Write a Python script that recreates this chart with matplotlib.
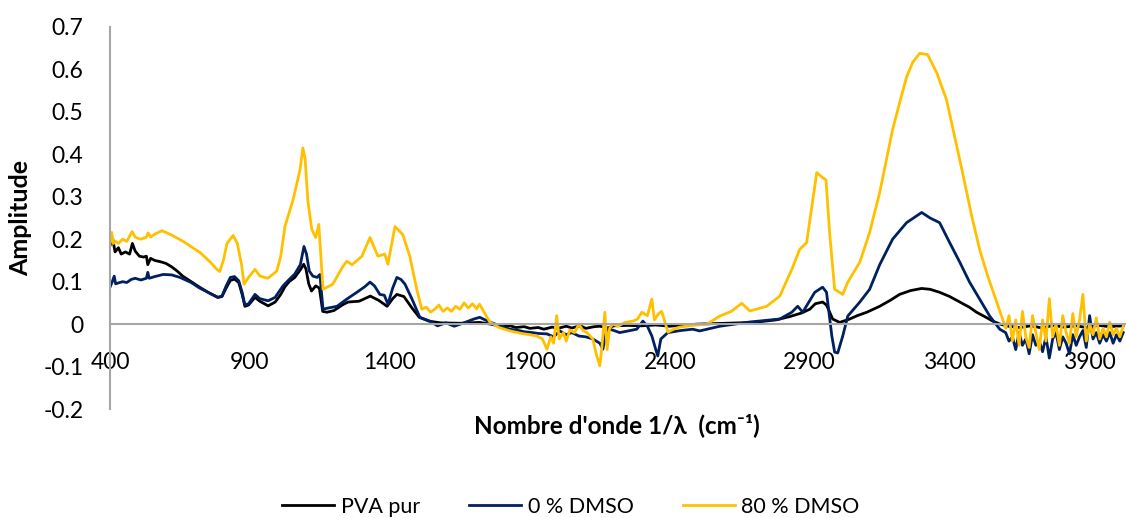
import matplotlib
matplotlib.use('Agg')
import matplotlib.pyplot as plt
from matplotlib.ticker import FuncFormatter

plt.rcParams['font.family'] = ['Lato', 'DejaVu Sans']
plt.rcParams['axes.unicode_minus'] = False

# PVA pur
pva_x = [400, 410, 418, 430, 440, 455, 470, 480, 490, 505, 520, 530, 535, 545, 560, 580, 600, 620,
         640, 660, 690, 720, 750, 785, 800, 815, 830, 845, 860, 872, 882, 895, 918, 935, 965, 990,
         1010, 1025, 1040, 1060, 1080, 1092, 1100, 1110, 1120, 1135, 1148, 1160, 1175, 1200, 1230,
         1250, 1290, 1330, 1360, 1390, 1410, 1425, 1450, 1480, 1505, 1540, 1580, 1650, 1720, 1760,
         1800, 1830, 1850, 1880, 1900, 1930, 1950, 1980, 2000, 2030, 2050, 2080, 2100, 2130, 2150,
         2180, 2200, 2250, 2300, 2350, 2400, 2450, 2500, 2600, 2700, 2780, 2830, 2870, 2900, 2920,
         2946, 2960, 2982, 3007, 3043, 3070, 3104, 3150, 3190, 3221, 3260, 3300, 3330, 3364, 3400,
         3436, 3470, 3496, 3530, 3554, 3580, 3610, 3650, 3690, 3730, 3770, 3810, 3850, 3890, 3930,
         3970, 4020]
pva_y = [0.185, 0.200, 0.170, 0.180, 0.165, 0.170, 0.165, 0.190, 0.172, 0.160, 0.158, 0.160, 0.140,
         0.155, 0.150, 0.147, 0.143, 0.135, 0.125, 0.113, 0.100, 0.087, 0.075, 0.063, 0.065, 0.085,
         0.103, 0.106, 0.098, 0.070, 0.042, 0.045, 0.063, 0.054, 0.043, 0.052, 0.070, 0.088, 0.100,
         0.110, 0.128, 0.141, 0.130, 0.095, 0.078, 0.090, 0.085, 0.030, 0.028, 0.032, 0.045, 0.052,
         0.054, 0.066, 0.056, 0.042, 0.060, 0.070, 0.065, 0.037, 0.016, 0.007, 0.003, 0.002, 0.004,
         0.000, -0.006, -0.004, -0.008, -0.006, -0.010, -0.008, -0.012, -0.007, -0.010, -0.005,
         -0.009, -0.004, -0.010, -0.006, -0.005, -0.009, -0.004, -0.003, -0.004, -0.002, -0.005,
         -0.002, 0.000, 0.002, 0.004, 0.010, 0.018, 0.026, 0.035, 0.048, 0.052, 0.045, 0.012, 0.004,
         0.012, 0.020, 0.028, 0.042, 0.057, 0.070, 0.079, 0.084, 0.082, 0.075, 0.065, 0.052, 0.040,
         0.028, 0.016, 0.007, 0.000, -0.005, -0.008, -0.004, -0.009, -0.003, -0.007, -0.004, -0.008,
         -0.003, -0.006, -0.004]

# 0 % DMSO
dmso0_x = [400, 408, 415, 420, 430, 445, 460, 475, 490, 510, 530, 535, 540, 560, 590, 620, 650, 690,
           720, 750, 785, 800, 815, 830, 845, 860, 872, 882, 895, 918, 935, 965, 990, 1018, 1040,
           1060, 1080, 1093, 1102, 1112, 1125, 1140, 1150, 1161, 1180, 1211, 1246, 1282, 1310, 1329,
           1345, 1364, 1380, 1393, 1410, 1425, 1440, 1454, 1479, 1507, 1543, 1570, 1600, 1630, 1660,
           1700, 1721, 1740, 1757, 1800, 1829, 1860, 1880, 1910, 1930, 1961, 1985, 2007, 2030, 2050,
           2075, 2100, 2125, 2150, 2161, 2175, 2200, 2221, 2260, 2282, 2304, 2320, 2336, 2350, 2357,
           2368, 2393, 2440, 2482, 2507, 2579, 2686, 2793, 2836, 2857, 2875, 2918, 2946, 2960, 2979,
           2989, 3000, 3018, 3036, 3079, 3114, 3150, 3196, 3246, 3300, 3330, 3364, 3400, 3436, 3471,
           3507, 3543, 3579, 3600, 3612, 3624, 3636, 3648, 3660, 3672, 3684, 3696, 3708, 3720, 3732,
           3744, 3756, 3768, 3780, 3792, 3804, 3816, 3828, 3840, 3852, 3864, 3876, 3888, 3900, 3912,
           3924, 3936, 3948, 3960, 3972, 3984, 3996, 4008, 4020]
dmso0_y = [0.087, 0.100, 0.113, 0.095, 0.097, 0.100, 0.098, 0.105, 0.108, 0.104, 0.108, 0.122, 0.108,
           0.112, 0.117, 0.116, 0.110, 0.098, 0.085, 0.075, 0.063, 0.066, 0.090, 0.110, 0.112, 0.102,
           0.075, 0.045, 0.048, 0.070, 0.060, 0.055, 0.063, 0.090, 0.105, 0.118, 0.140, 0.183, 0.165,
           0.125, 0.113, 0.110, 0.117, 0.035, 0.038, 0.042, 0.059, 0.075, 0.088, 0.099, 0.090, 0.070,
           0.068, 0.047, 0.085, 0.110, 0.105, 0.094, 0.059, 0.016, 0.007, -0.004, 0.003, -0.005, 0.002,
           0.012, 0.016, 0.010, 0.005, -0.006, -0.012, -0.015, -0.018, -0.020, -0.022, -0.023, -0.030,
           -0.016, -0.025, -0.020, -0.028, -0.030, -0.035, -0.045, -0.059, -0.010, -0.015, -0.020,
           -0.015, -0.012, 0.007, -0.005, -0.028, -0.060, -0.075, -0.035, -0.020, -0.015, -0.012,
           -0.016, -0.005, 0.005, 0.012, 0.028, 0.042, 0.028, 0.075, 0.087, 0.075, -0.028, -0.066,
           -0.068, -0.028, 0.019, 0.052, 0.082, 0.140, 0.200, 0.239, 0.263, 0.250, 0.239, 0.192, 0.146,
           0.099, 0.059, 0.019, -0.012, -0.020, -0.040, -0.030, -0.060, -0.020, -0.050, -0.035, -0.070,
           -0.025, -0.050, -0.040, -0.065, -0.030, -0.080, -0.035, -0.020, -0.060, -0.030, -0.045,
           -0.070, -0.025, -0.050, -0.030, -0.015, -0.055, 0.020, -0.035, -0.020, -0.045, -0.025,
           -0.040, -0.020, -0.045, -0.025, -0.040, -0.020]

# 80 % DMSO
dmso80_x = [400, 406, 412, 420, 430, 445, 460, 479, 490, 510, 530, 536, 545, 560, 586, 620, 661, 721,
            760, 782, 792, 805, 818, 840, 855, 870, 879, 895, 918, 936, 964, 996, 1010, 1025, 1054,
            1079, 1089, 1097, 1107, 1121, 1135, 1146, 1161, 1196, 1232, 1246, 1265, 1300, 1329, 1357,
            1382, 1393, 1418, 1446, 1471, 1496, 1514, 1530, 1545, 1560, 1575, 1590, 1605, 1620, 1635,
            1650, 1665, 1680, 1695, 1710, 1720, 1735, 1757, 1790, 1829, 1870, 1900, 1925, 1945, 1961,
            1975, 1985, 1996, 2005, 2020, 2030, 2043, 2060, 2075, 2090, 2104, 2125, 2139, 2150, 2158,
            2168, 2176, 2185, 2196, 2215, 2240, 2268, 2285, 2300, 2320, 2336, 2345, 2360, 2371, 2385,
            2393, 2420, 2436, 2480, 2532, 2579, 2620, 2657, 2686, 2746, 2793, 2836, 2864, 2889, 2911,
            2925, 2946, 2958, 2971, 2989, 3018, 3036, 3079, 3114, 3150, 3196, 3221, 3246, 3268, 3293,
            3321, 3354, 3389, 3418, 3446, 3479, 3507, 3536, 3568, 3589, 3600, 3612, 3624, 3636, 3648,
            3660, 3672, 3684, 3696, 3708, 3720, 3732, 3744, 3756, 3768, 3780, 3792, 3804, 3816, 3828,
            3840, 3852, 3864, 3876, 3888, 3900, 3912, 3924, 3936, 3948, 3960, 3972, 3984, 3996, 4008,
            4020]
dmso80_y = [0.188, 0.216, 0.190, 0.195, 0.190, 0.200, 0.195, 0.218, 0.205, 0.200, 0.205, 0.215, 0.205,
            0.212, 0.220, 0.210, 0.195, 0.169, 0.145, 0.129, 0.124, 0.150, 0.190, 0.209, 0.190, 0.140,
            0.094, 0.110, 0.129, 0.113, 0.108, 0.125, 0.160, 0.230, 0.293, 0.364, 0.415, 0.390, 0.290,
            0.223, 0.204, 0.235, 0.082, 0.094, 0.136, 0.148, 0.140, 0.160, 0.204, 0.160, 0.165, 0.141,
            0.230, 0.211, 0.160, 0.082, 0.035, 0.040, 0.028, 0.035, 0.045, 0.030, 0.038, 0.030, 0.042,
            0.035, 0.050, 0.038, 0.048, 0.036, 0.047, 0.030, 0.005, -0.008, -0.016, -0.022, -0.025,
            -0.028, -0.035, -0.059, -0.030, -0.045, 0.020, -0.035, -0.020, -0.040, -0.014, -0.020,
            0.000, -0.015, -0.020, -0.035, -0.075, -0.098, -0.050, 0.028, -0.060, -0.010, 0.000,
            -0.005, 0.004, 0.007, 0.012, 0.028, 0.020, 0.059, 0.010, 0.025, 0.030, 0.000, -0.019,
            -0.010, -0.007, -0.003, 0.000, 0.019, 0.030, 0.049, 0.031, 0.042, 0.066, 0.129, 0.176,
            0.192, 0.293, 0.357, 0.345, 0.340, 0.216, 0.082, 0.070, 0.099, 0.146, 0.216, 0.310, 0.458,
            0.521, 0.582, 0.617, 0.638, 0.635, 0.592, 0.528, 0.441, 0.357, 0.254, 0.176, 0.113, 0.052,
            0.012, -0.010, 0.020, -0.040, 0.010, -0.050, 0.030, -0.030, -0.055, 0.020, -0.020, -0.060,
            0.010, -0.040, 0.060, -0.030, 0.000, -0.050, 0.020, -0.020, -0.045, 0.025, -0.030, 0.010,
            0.070, -0.040, 0.000, -0.025, 0.015, -0.035, -0.010, -0.030, 0.005, -0.025, -0.010, -0.030,
            -0.005]

x_ticks = [400, 900, 1400, 1900, 2400, 2900, 3400, 3900]
y_ticks = [-0.2, -0.1, 0, 0.1, 0.2, 0.3, 0.4, 0.5, 0.6, 0.7]

fig = plt.figure(figsize=(11.26, 5.18), dpi=100)
ax = fig.add_axes([0.0977, 0.2104, 0.9023, 0.7375])

ax.plot(pva_x, pva_y, color='#000000', lw=2.0, label='PVA pur')
ax.plot(dmso0_x, dmso0_y, color='#002060', lw=2.0, label='0 % DMSO')
ax.plot(dmso80_x, dmso80_y, color='#FFC000', lw=2.0, label='80 % DMSO')

ax.set_xlim(400, 4030)
ax.set_ylim(-0.2, 0.7)
ax.set_xticks(x_ticks)
ax.set_yticks(y_ticks)
ax.yaxis.set_major_formatter(FuncFormatter(lambda v, p: f'{v:g}'))

for s in ['top', 'right']:
    ax.spines[s].set_visible(False)
ax.spines['bottom'].set_position(('data', 0))
ax.spines['bottom'].set_color('#a6a6a6')
ax.spines['bottom'].set_linewidth(1.5)
ax.spines['left'].set_color('#a6a6a6')
ax.spines['left'].set_linewidth(1.5)
ax.tick_params(axis='x', length=0, pad=20, labelsize=16.5)
ax.tick_params(axis='y', length=0, pad=19, labelsize=16.5)

ax.set_ylabel('Amplitude', fontsize=18, fontweight='bold', labelpad=8)
fig.text(0.548, 0.18, "Nombre d'onde 1/λ  (cm⁻¹)", fontsize=17.5, fontweight='bold',
         ha='center', va='center')

fig.legend(loc='lower center', bbox_to_anchor=(0.507, -0.035), ncol=3, frameon=False,
           fontsize=15.5, handlelength=2.4, columnspacing=2.3, handletextpad=0.3)

fig.savefig('out.png', dpi=100)
